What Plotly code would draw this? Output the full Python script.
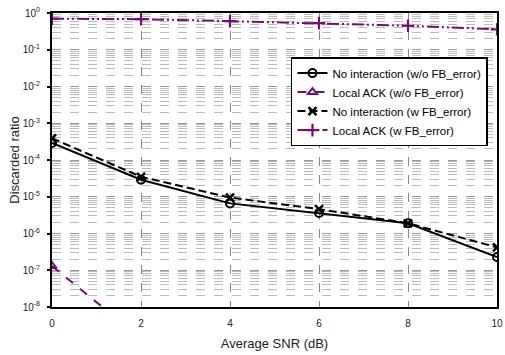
import plotly.graph_objects as go

snr = [0, 2, 4, 6, 8, 10]
no_int_wo = [2.9e-4, 2.9e-5, 6.6e-6, 3.6e-6, 1.9e-6, 2.3e-7]
# Only the 0 dB point is visible; 2 dB continues the visible slope off the chart bottom.
# Values at 4-10 dB are not shown in the reference, so they are left empty.
local_wo = [1.3e-7, 1.4e-9, None, None, None, None]
no_int_w = [3.9e-4, 3.5e-5, 9.5e-6, 4.6e-6, 1.9e-6, 4.2e-7]
local_w = [0.70, 0.68, 0.60, 0.53, 0.45, 0.36]
names = ["No interaction (w/o FB_error)", "Local ACK (w/o FB_error)",
         "No interaction (w FB_error)", "Local ACK (w FB_error)"]
ytick_vals = [1e-8, 1e-7, 1e-6, 1e-5, 1e-4, 1e-3, 1e-2, 1e-1, 1]
ytick_text = ["10<sup>-8</sup>", "10<sup>-7</sup>", "10<sup>-6</sup>", "10<sup>-5</sup>",
              "10<sup>-4</sup>", "10<sup>-3</sup>", "10<sup>-2</sup>", "10<sup>-1</sup>", "10<sup>0</sup>"]

purple = "#7a0a7a"
fig = go.Figure()
fig.add_trace(go.Scatter(x=snr, y=no_int_wo, name=names[0], mode="lines+markers",
                         line=dict(color="black", width=2),
                         marker=dict(symbol="circle-open", size=8, color="black", line=dict(width=2))))
fig.add_trace(go.Scatter(x=snr, y=local_wo, name=names[1], mode="lines+markers",
                         line=dict(color=purple, width=2, dash="dash"),
                         marker=dict(symbol="triangle-up-open", size=8, color=purple, line=dict(width=2))))
fig.add_trace(go.Scatter(x=snr, y=no_int_w, name=names[2], mode="lines+markers",
                         line=dict(color="black", width=2, dash="8px,4px"),
                         marker=dict(symbol="x-thin-open", size=8, color="black", line=dict(width=2.5, color="black"))))
fig.add_trace(go.Scatter(x=snr, y=local_w, name=names[3], mode="lines+markers",
                         line=dict(color=purple, width=2, dash="12px,3px,2px,3px,2px,3px"),
                         marker=dict(symbol="cross-thin-open", size=9, color=purple, line=dict(width=2.2, color=purple))))

fig.update_layout(
    width=505, height=355,
    margin=dict(l=52, r=8, t=13, b=48, autoexpand=False),
    paper_bgcolor="white", plot_bgcolor="white",
    font=dict(family="Arial, Liberation Sans, sans-serif", color="#222"),
    showlegend=True,
    legend=dict(x=0.537, y=0.85, xanchor="left", yanchor="top",
                bgcolor="white", bordercolor="black", borderwidth=1.5,
                font=dict(size=11.5, color="black"), tracegroupgap=0, itemwidth=30),
    xaxis=dict(range=[0, 10], tickvals=snr, ticks="", showgrid=True, automargin=False,
               gridcolor="#888", griddash="dash", gridwidth=1,
               showline=True, linecolor="black", linewidth=2, mirror=True,
               tickfont=dict(size=10), ticklabeloverflow="allow", ticklabelstandoff=6,
               title=dict(text="Average SNR (dB)", font=dict(size=13), standoff=11),
               zeroline=False),
    yaxis=dict(type="log", range=[-8, 0], tickvals=ytick_vals, ticktext=ytick_text, automargin=False,
               ticks="outside", ticklen=3, tickcolor="black", tickwidth=2,
               showgrid=True, gridcolor="#999", griddash="dash", gridwidth=1,
               minor=dict(showgrid=True, gridcolor="#bbb", griddash="dash", gridwidth=1, dtick="D1"),
               showline=True, linecolor="black", linewidth=2, mirror=True,
               tickfont=dict(size=10), ticklabelstandoff=5,
               title=dict(text="Discarded ratio", font=dict(size=13), standoff=0),
               zeroline=False),
)
fig.write_html("out.html", config={"displayModeBar": False},
               post_script="document.body.style.margin='0';document.body.style.overflow='hidden';")
